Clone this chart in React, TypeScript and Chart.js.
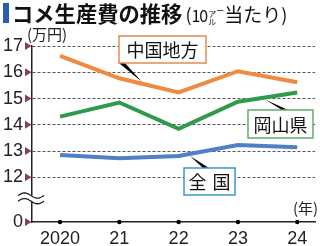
import React, { useEffect, useRef } from "react";
import { Chart, registerables } from "chart.js";
Chart.register(...registerables);

const years = [2020, 2021, 2022, 2023, 2024];
const xTickLabels = ["2020", "21", "22", "23", "24"];
const chugoku = [16.62, 15.77, 15.23, 16.04, 15.62];
const okayama = [14.31, 14.85, 13.85, 14.88, 15.23];
const zenkoku = [12.85, 12.73, 12.81, 13.23, 13.15];
const yTickValues = [10.3, 12, 13, 14, 15, 16, 17];
const yTickLabels = ["0", "12", "13", "14", "15", "16", "17"];
const seriesNames = ["中国地方", "岡山県", "全国"];

const COLORS = ["#f08a3e", "#2f9a4a", "#4f7fc6"];
const BOX_COLORS = ["#e88a50", "#62ab6e", "#3a98cf"];

// label box placement in data coordinates, pointer anchor year on the line
const labelPos = [
  { x: 2021.728, y: 16.867, w: 87, h: 27, anchor: 2021.38, baseDx: 0, spacing: 0 },
  { x: 2023.718, y: 14.031, w: 65, h: 28, anchor: 2023.457, baseDx: 1, spacing: 0 },
  { x: 2022.521, y: 11.842, w: 51, h: 27, anchor: 2022.192, baseDx: -3, spacing: 6 },
];

const seriesData = [chugoku, okayama, zenkoku];

function interp(data: number[], yr: number) {
  const i = Math.min(Math.max(Math.floor(yr - years[0]), 0), years.length - 2);
  const t = yr - years[i];
  return data[i] + (data[i + 1] - data[i]) * t;
}

const decorPlugin = {
  id: "decor",
  afterDatasetsDraw(chart: any) {
    const ctx = chart.ctx;
    const xs = chart.scales.x;
    const ys = chart.scales.y;
    ctx.save();
    labelPos.forEach((p, k) => {
      const cx = xs.getPixelForValue(p.x);
      const cy = ys.getPixelForValue(p.y);
      const ax = xs.getPixelForValue(p.anchor);
      const ayLine = ys.getPixelForValue(interp(seriesData[k], p.anchor));
      const top = cy - p.h / 2;
      const bottom = cy + p.h / 2;
      const below = ayLine > cy;
      const ay = below ? ayLine - 2 : ayLine + 2;
      const by = below ? bottom : top;
      const bx = ax + (below ? -20 : 19) + p.baseDx;
      ctx.fillStyle = "#000";
      ctx.beginPath();
      ctx.moveTo(ax, ay);
      ctx.lineTo(bx - 3, by);
      ctx.lineTo(bx + 3, by);
      ctx.closePath();
      ctx.fill();
      ctx.fillStyle = "#fff";
      ctx.fillRect(cx - p.w / 2, top, p.w, p.h);
      ctx.strokeStyle = BOX_COLORS[k];
      ctx.lineWidth = 1.5;
      ctx.strokeRect(cx - p.w / 2, top, p.w, p.h);
      ctx.fillStyle = "#111";
      ctx.font = '18px "Noto Sans CJK JP"';
      ctx.textBaseline = "middle";
      ctx.textAlign = "center";
      const chars = Array.from(seriesNames[k]);
      if (p.spacing) {
        const cw = 18;
        const total = chars.length * cw + (chars.length - 1) * p.spacing;
        chars.forEach((c, i) => {
          ctx.fillText(c, cx - total / 2 + cw / 2 + i * (cw + p.spacing), cy + 1);
        });
      } else {
        ctx.fillText(seriesNames[k], cx, cy + 1);
      }
    });
    ctx.restore();
  },
  afterDraw(chart: any) {
    const ctx = chart.ctx;
    const xs = chart.scales.x;
    const ys = chart.scales.y;
    const left = chart.chartArea.left;
    const bottom = chart.chartArea.bottom;
    ctx.save();
    ctx.fillStyle = "#8c3d62";
    yTickValues.forEach((v) => {
      const y = ys.getPixelForValue(v);
      ctx.beginPath();
      ctx.moveTo(left - 7, y - 4);
      ctx.lineTo(left - 7, y + 4);
      ctx.lineTo(left - 0.5, y);
      ctx.closePath();
      ctx.fill();
    });
    ctx.fillStyle = "#000";
    years.forEach((yr) => {
      const x = xs.getPixelForValue(yr);
      ctx.beginPath();
      ctx.arc(x, bottom, 2.2, 0, Math.PI * 2);
      ctx.fill();
    });
    const yb = ys.getPixelForValue(11.2);
    const x0 = left - 14;
    const x1 = left + 12;
    const wave = (off: number) => {
      ctx.beginPath();
      for (let i = 0; i <= 26; i++) {
        const x = x0 + ((x1 - x0) * i) / 26;
        const y = yb + off - 2.6 * Math.sin(((x - x0) / (x1 - x0)) * Math.PI * 2);
        if (i === 0) ctx.moveTo(x, y);
        else ctx.lineTo(x, y);
      }
    };
    ctx.fillStyle = "#fff";
    ctx.fillRect(left - 3, yb - 3, 6, 6);
    ctx.strokeStyle = "#222";
    ctx.lineWidth = 1.3;
    wave(-2.8);
    ctx.stroke();
    wave(2.8);
    ctx.stroke();
    ctx.restore();
  },
};

export default function App() {
  const ref = useRef<HTMLCanvasElement | null>(null);
  useEffect(() => {
    if (!ref.current) return;
    const mk = (data: number[], k: number) => ({
      label: seriesNames[k],
      data: years.map((yr, i) => ({ x: yr, y: data[i] })),
      borderColor: COLORS[k],
      backgroundColor: COLORS[k],
      borderWidth: 4,
      pointRadius: 0,
      borderCapStyle: "butt",
      borderJoinStyle: "miter",
      tension: 0,
    });
    const chart = new Chart(ref.current, {
      type: "line",
      data: {
        datasets: [mk(chugoku, 0), mk(okayama, 1), mk(zenkoku, 2)] as any,
      },
      options: {
        animation: false,
        responsive: false,
        maintainAspectRatio: false,
        layout: { padding: { top: 46, right: 5, left: 0, bottom: 0 } },
        plugins: { legend: { display: false }, tooltip: { enabled: false } },
        scales: {
          x: {
            type: "linear",
            min: 2019.527,
            max: 2024.3,
            afterBuildTicks: (s: any) => {
              s.ticks = years.map((v) => ({ value: v }));
            },
            afterFit: (s: any) => {
              s.height = 24;
            },
            grid: { display: false, drawTicks: false },
            border: { display: true, color: "#222", width: 1.5 },
            ticks: {
              padding: 6,
              color: "#222",
              font: { family: "Liberation Sans", size: 18 },
              callback: (v: any) => xTickLabels[years.indexOf(v)],
              maxRotation: 0,
              autoSkip: false,
            },
          },
          y: {
            type: "linear",
            min: 10.3,
            max: 17,
            afterBuildTicks: (s: any) => {
              s.ticks = yTickValues.map((v) => ({ value: v }));
            },
            afterFit: (s: any) => {
              s.width = 32;
            },
            grid: {
              drawTicks: false,
              color: (c: any) => (c.tick && c.tick.value === 10.3 ? "rgba(0,0,0,0)" : "#555"),
              lineWidth: 1,
            },
            border: { display: true, color: "#222", width: 1.5, dash: [3, 2] as any },
            ticks: {
              padding: 9,
              color: "#222",
              font: { family: "Liberation Sans", size: 18 },
              callback: (v: any) => yTickLabels[yTickValues.indexOf(v)],
              autoSkip: false,
            },
          },
        },
      } as any,
      plugins: [decorPlugin],
    });
    return () => chart.destroy();
  }, []);

  const cjk = '"Noto Sans CJK JP"';
  return (
    <div style={{ position: "fixed", left: 0, top: 0, width: 320, height: 246, background: "#fff", overflow: "hidden" }}>
      <canvas ref={ref} width={320} height={246} style={{ position: "absolute", left: 0, top: 0, width: 320, height: 246 }} />
      <div style={{ position: "absolute", left: 3, top: 3, width: 6, height: 20, background: "#2b5ea8" }} />
      <div
        style={{
          position: "absolute",
          left: 12,
          top: -1,
          whiteSpace: "nowrap",
          fontFamily: cjk,
          color: "#111",
          lineHeight: "28px",
        }}
      >
        <span style={{ fontSize: 21.3, fontWeight: 700 }}>コメ生産費の推移</span>
        <span style={{ fontSize: 18, marginLeft: 3 }}>(</span>
        <span style={{ fontSize: 16, letterSpacing: -1 }}>10</span>
        <span
          style={{
            display: "inline-block",
            fontSize: 8,
            lineHeight: "8px",
            verticalAlign: "middle",
            textAlign: "center",
            marginLeft: 1,
          }}
        >
          ア<br />ル
        </span>
        <span style={{ fontSize: 8, verticalAlign: "top", position: "relative", top: -2 }}>ー</span>
        <span style={{ fontSize: 19 }}>当たり</span>
        <span style={{ fontSize: 18 }}>)</span>
      </div>
      <div style={{ position: "absolute", left: 27, top: 25, fontFamily: cjk, fontSize: 15, color: "#222", lineHeight: "18px" }}>
        (万円)
      </div>
      <div style={{ position: "absolute", left: 293, top: 199, fontFamily: cjk, fontSize: 15, color: "#222", lineHeight: "18px" }}>
        (年)
      </div>
    </div>
  );
}
